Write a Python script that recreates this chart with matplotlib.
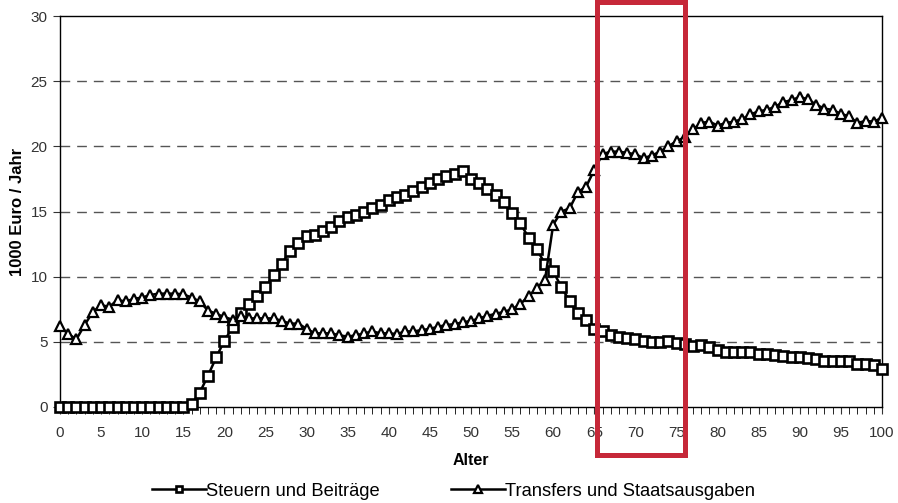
import numpy as np
import matplotlib.pyplot as plt
from matplotlib.patches import Rectangle
from matplotlib.ticker import MultipleLocator

plt.rcParams['font.family'] = ['Liberation Sans', 'DejaVu Sans']

# Alter 0..100
alter = list(range(101))

# Steuern und Beiträge (1000 Euro / Jahr)
steuern = [0, 0, 0, 0, 0, 0, 0, 0, 0, 0,
           0, 0, 0, 0, 0, 0, 0.2, 1.1, 2.4, 3.8,
           5.1, 6.1, 7.2, 7.9, 8.5, 9.2, 10.1, 11.0, 12.0, 12.6,
           13.1, 13.2, 13.5, 13.8, 14.3, 14.6, 14.7, 15.0, 15.3, 15.5,
           15.9, 16.1, 16.3, 16.6, 16.9, 17.2, 17.5, 17.7, 17.85, 18.1,
           17.5, 17.2, 16.7, 16.3, 15.7, 14.9, 14.1, 13.0, 12.1, 11.0,
           10.4, 9.2, 8.1, 7.2, 6.7, 6.0, 5.8, 5.5, 5.35, 5.3,
           5.2, 5.05, 5.0, 5.0, 5.1, 4.9, 4.8, 4.7, 4.75, 4.6,
           4.4, 4.25, 4.2, 4.2, 4.2, 4.05, 4.05, 4.0, 3.9, 3.85,
           3.85, 3.75, 3.65, 3.55, 3.5, 3.5, 3.5, 3.3, 3.3, 3.2,
           2.95]

# Transfers und Staatsausgaben (1000 Euro / Jahr)
transfers = [6.2, 5.6, 5.2, 6.3, 7.3, 7.8, 7.7, 8.2, 8.1, 8.3,
             8.4, 8.6, 8.7, 8.7, 8.7, 8.65, 8.4, 8.1, 7.4, 7.15,
             6.9, 6.7, 7.0, 6.8, 6.8, 6.8, 6.8, 6.6, 6.4, 6.4,
             6.0, 5.65, 5.65, 5.65, 5.5, 5.4, 5.5, 5.65, 5.8, 5.65,
             5.65, 5.6, 5.8, 5.8, 5.9, 6.0, 6.15, 6.3, 6.35, 6.5,
             6.6, 6.8, 7.0, 7.15, 7.3, 7.5, 7.9, 8.5, 9.1, 9.75,
             14.0, 15.0, 15.25, 16.5, 16.9, 18.2, 19.4, 19.6, 19.6, 19.5,
             19.4, 19.1, 19.3, 19.6, 20.0, 20.4, 20.7, 21.3, 21.8, 21.9,
             21.6, 21.8, 21.9, 22.1, 22.45, 22.7, 22.8, 23.05, 23.4, 23.55,
             23.8, 23.6, 23.2, 22.9, 22.8, 22.5, 22.3, 21.8, 21.95, 21.9,
             22.2]

fig = plt.figure(figsize=(8.98, 5.03), dpi=100)
ax = fig.add_axes([0.0668, 0.1909, 0.9154, 0.7771])

ax.plot(alter, steuern, color='black', lw=1.8, marker='s', ms=6.5,
        mfc='white', mec='black', mew=1.9, label='Steuern und Beiträge',
        clip_on=False, zorder=3)
ax.plot(alter, transfers, color='black', lw=1.8, marker='^', ms=7.5,
        mfc='white', mec='black', mew=1.6, label='Transfers und Staatsausgaben',
        clip_on=False, zorder=3)

ax.set_xlim(0, 100)
ax.set_ylim(0, 30)
ax.xaxis.set_major_locator(MultipleLocator(5))
ax.xaxis.set_minor_locator(MultipleLocator(1))
ax.yaxis.set_major_locator(MultipleLocator(5))
ax.tick_params(axis='both', which='major', labelsize=11, length=5,
               direction='out', colors='#333333')
ax.tick_params(axis='x', which='both', length=5, pad=9)
ax.tick_params(axis='y', pad=4)
for s in ax.spines.values():
    s.set_color('black')
    s.set_linewidth(1.0)

for yv in [5, 10, 15, 20, 25]:
    ax.axhline(yv, color='#555555', lw=1.0, ls=(0, (7, 5)), zorder=1)

ax.set_xlabel('Alter', fontsize=11.5, fontweight='bold', labelpad=9)
ax.set_ylabel('1000 Euro / Jahr', fontsize=12, fontweight='bold', labelpad=4)

ax.legend(loc='upper center', bbox_to_anchor=(0.479, -0.152), ncol=2,
          frameon=False, fontsize=13.2, handlelength=2.95, handletextpad=0.0,
          columnspacing=3.9, markerscale=0.7)

# rote Markierung 65-75
rect = Rectangle((65.3, -3.7), 10.7, 34.8, fill=False, ec='#C62839', lw=3.6,
                 clip_on=False, zorder=5)
ax.add_patch(rect)

fig.savefig('out.png', dpi=100)
